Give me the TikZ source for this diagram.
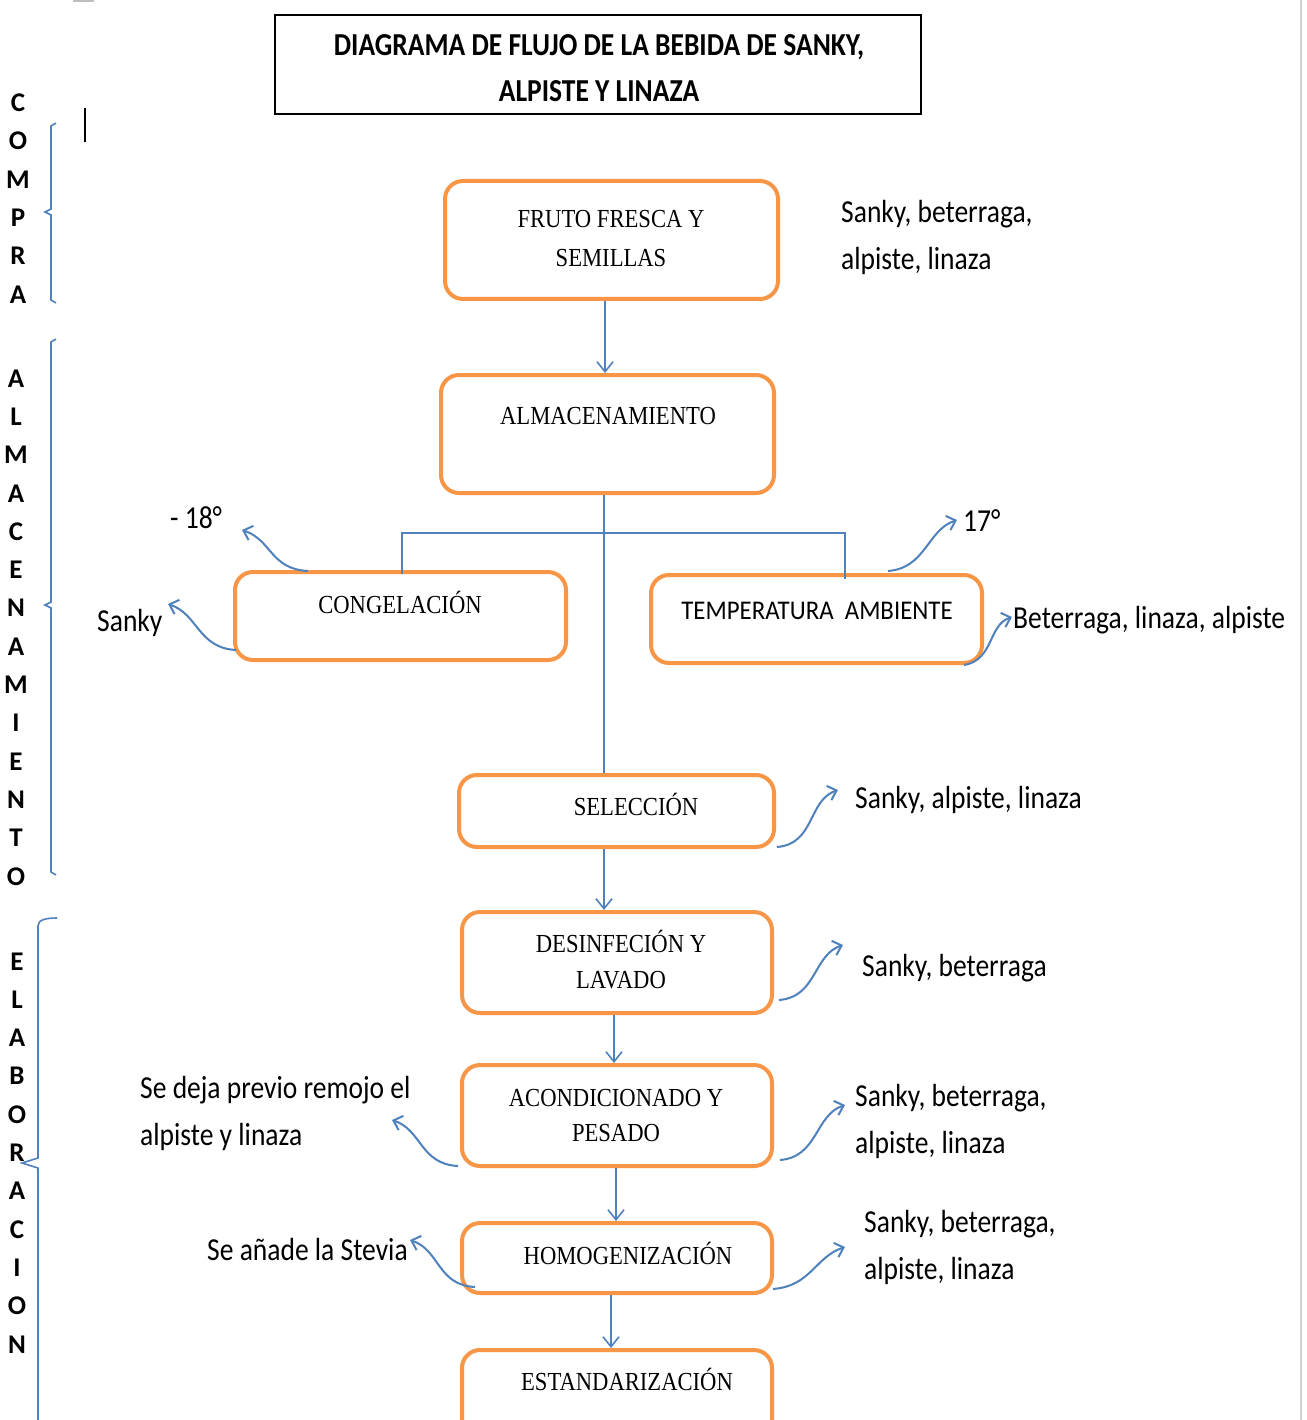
\documentclass[tikz,border=0pt]{standalone}
\usepackage{fontspec}
\usetikzlibrary{arrows.meta,calc}
\newfontfamily\sidefont[FakeStretch=0.86]{Carlito}
\newfontfamily\titlefont[FakeStretch=0.86]{Carlito}
\newfontfamily\boxfont[FakeStretch=0.87]{Liberation Serif}
\newfontfamily\tempfont[FakeStretch=0.92]{Carlito}
\newfontfamily\letfont{Carlito}
\definecolor{orng}{HTML}{F79646}
\definecolor{blu}{HTML}{4F81BD}
\tikzset{
  pbox/.style={draw=orng, line width=4pt, rounded corners=18pt, inner sep=0pt},
  titlebox/.style={draw=black, line width=2.5pt, inner sep=0pt},
  btxt/.style={inner sep=0pt, anchor=base, align=center, font=\boxfont\fontsize{26}{37}\selectfont},
  stxt/.style={inner sep=0pt, anchor=base west, align=left, font=\sidefont\fontsize{32}{47}\selectfont},
  vlet/.style={inner sep=0pt, anchor=base, align=center, font=\letfont\bfseries\fontsize{27}{38.3}\selectfont},
  lnk/.style={draw=blu, line width=1.6pt},
  flow/.style={draw=blu, line width=1.6pt, -{Straight Barb[length=10pt,width=16pt,line width=1.6pt]}},
  curv/.style={draw=blu, line width=2pt, -{Straight Barb[length=8pt,width=15pt,line width=2pt]}},
  brace/.style={draw=blu, line width=1.6pt}
}
\begin{document}
\begin{tikzpicture}[x=1pt,y=-1pt]
\useasboundingbox (0,0) rectangle (1306,1420);
\fill[white] (0,0) rectangle (1306,1420);
% artefacts
\draw[gray!50, line width=3pt] (73,1) -- (94,1);
\draw[gray!35, line width=1.5pt] (1301,0) -- (1301,1420);
\draw[black, line width=1.5pt] (85,108) -- (85,142);

% title
\node[titlebox, minimum width=646pt, minimum height=99pt] (title) at (598,64.5) {};
\node[inner sep=0pt, anchor=base, align=center, font=\titlefont\bfseries\fontsize{32}{46}\selectfont] (titletxt) at (599,101.5) {DIAGRAMA DE FLUJO DE LA BEBIDA DE SANKY,\\ALPISTE Y LINAZA};

% boxes
\node[pbox, minimum width=333pt, minimum height=118pt] (fruto) at (611.5,240) {};
\node[btxt, font=\boxfont\fontsize{26}{39}\selectfont] (frutoT) at (611,266.5) {FRUTO FRESCA Y\\SEMILLAS};
\node[pbox, minimum width=333pt, minimum height=118pt] (almac) at (607.5,434) {};
\node[btxt] (almacT) at (608,424.5) {ALMACENAMIENTO};
\node[pbox, minimum width=331pt, minimum height=88pt] (cong) at (400.5,616) {};
\node[btxt] (congT) at (400,613.5) {CONGELACIÓN};
\node[pbox, minimum width=331pt, minimum height=88pt] (temp) at (816.5,619) {};
\node[inner sep=0pt, anchor=base, font=\tempfont\fontsize{27}{36}\selectfont] (tempT) at (817,619) {TEMPERATURA\ \ AMBIENTE};
\node[pbox, minimum width=315pt, minimum height=72pt] (sel) at (616.5,811) {};
\node[btxt] (selT) at (636,815.5) {SELECCIÓN};
\node[pbox, minimum width=310pt, minimum height=101pt] (des) at (617,962.5) {};
\node[btxt, font=\boxfont\fontsize{26}{36}\selectfont] (desT) at (621,988.5) {DESINFECIÓN Y\\LAVADO};
\node[pbox, minimum width=310pt, minimum height=101pt] (aco) at (617,1115.5) {};
\node[btxt, font=\boxfont\fontsize{26}{35}\selectfont] (acoT) at (616,1141.5) {ACONDICIONADO Y\\PESADO};
\node[pbox, minimum width=310pt, minimum height=70pt] (hom) at (617,1258) {};
\node[btxt] (homT) at (628,1264.5) {HOMOGENIZACIÓN};
\node[pbox, minimum width=310pt, minimum height=100pt] (est) at (617,1400) {};
\node[btxt] (estT) at (627,1390.5) {ESTANDARIZACIÓN};

% side texts
\node[stxt] (frutoS) at (841,270) {Sanky, beterraga,\\alpiste, linaza};
\node[stxt] (minus) at (170,528) {- 18°};
\node[stxt] (sankyL) at (97,631) {Sanky};
\node[stxt] (t17) at (963,531) {17°};
\node[stxt] (beterr) at (1013,628) {Beterraga, linaza, alpiste};
\node[stxt] (selS) at (855,808) {Sanky, alpiste, linaza};
\node[stxt] (desS) at (862,976) {Sanky, beterraga};
\node[stxt] (acoS) at (855,1153) {Sanky, beterraga,\\alpiste, linaza};
\node[stxt] (acoL) at (140,1145) {Se deja previo remojo el\\alpiste y linaza};
\node[stxt] (homL) at (207,1260) {Se añade la Stevia};
\node[stxt] (homS) at (864,1279) {Sanky, beterraga,\\alpiste, linaza};

% vertical section letters
\node[vlet] (compra) at (18,303) {C\\O\\M\\P\\R\\A};
\node[vlet] (almacL) at (16,885) {A\\L\\M\\A\\C\\E\\N\\A\\M\\I\\E\\N\\T\\O};
\node[vlet] (elab) at (17,1353) {E\\L\\A\\B\\O\\R\\A\\C\\I\\O\\N};

% braces
\draw[brace] (56,123) -- (51,126) -- (51,209) -- (45,212) -- (51,215) -- (51,300) -- (56,303);
\draw[brace] (56,339) -- (51,342) -- (51,602) -- (45,605) -- (51,608) -- (51,872) -- (56,875);
\draw[brace] (57,918) .. controls (45,918) and (38,920) .. (38,926) -- (38,1158) -- (22,1163) -- (38,1168) -- (38,1425);

% main flow
\draw[flow] ([xshift=-6.5pt]fruto.south) -- ([xshift=-6.5pt]fruto.south |- almac.north);
\draw[lnk] ([xshift=-3.5pt]almac.south) -- ([xshift=-3.5pt]almac.south |- sel.north);
\coordinate (jL) at (402,533);
\coordinate (jR) at (845,533);
\draw[lnk] ([yshift=-4pt]jL |- cong.north) -- (jL) -- (jR) -- ([yshift=-6pt]jR |- temp.north);
\draw[flow] ([xshift=-12.5pt]sel.south) -- ([xshift=-12.5pt]sel.south |- des.north);
\draw[flow] ([xshift=-3pt]des.south) -- ([xshift=-3pt]des.south |- aco.north);
\draw[flow] ([xshift=-1pt]aco.south) -- ([xshift=-1pt]aco.south |- hom.north);
\draw[flow] ([xshift=-6pt]hom.south) -- ([xshift=-6pt]hom.south |- est.north);

% curved side arrows
\coordinate (eMinus) at (242,530);
\coordinate (eSanky) at (168,604);
\coordinate (e17) at (957,520);
\coordinate (eBet) at (1012,617);
\coordinate (eSel) at (838,790);
\coordinate (eDes) at (843,945);
\coordinate (eAcoR) at (845,1105);
\coordinate (eAcoL) at (392,1120);
\coordinate (eHomL) at (410,1240);
\coordinate (eHomR) at (845,1247);
\draw[curv] ($(cong.north west)+(75,1)$) .. controls +(-38,-2) and +(30,10) .. (eMinus);
\draw[curv] ($(cong.south west)+(3,-12)$) .. controls +(-38,-2) and +(30,10) .. (eSanky);
\draw[curv] ($(temp.north west)+(239,-2)$) .. controls +(38,-3) and +(-30,10) .. (e17);
\draw[curv] ($(temp.south east)+(-20,0)$) .. controls +(30,-5) and +(-24,8) .. (eBet);
\draw[curv] ($(sel.south east)+(1,-2)$) .. controls +(38,-3) and +(-30,10) .. (eSel);
\draw[curv] ($(des.south east)+(5,-15)$) .. controls +(38,-3) and +(-30,10) .. (eDes);
\draw[curv] ($(aco.south east)+(6,-8)$) .. controls +(38,-3) and +(-30,10) .. (eAcoR);
\draw[curv] ($(aco.south west)+(-2,-2)$) .. controls +(-38,-2) and +(30,10) .. (eAcoL);
\draw[curv] ($(hom.south west)+(15,-8)$) .. controls +(-38,-2) and +(30,10) .. (eHomL);
\draw[curv] ($(hom.south east)+(-1,-6)$) .. controls +(38,-3) and +(-30,10) .. (eHomR);
\end{tikzpicture}
\end{document}
